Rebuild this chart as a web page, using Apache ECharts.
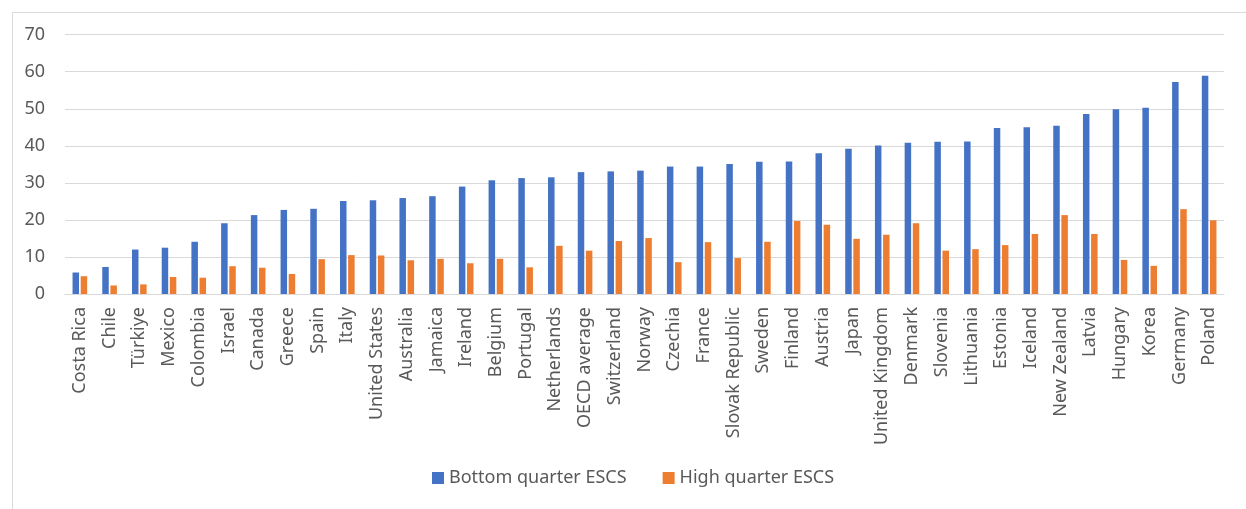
<!DOCTYPE html>
<html>
<head>
<meta charset="utf-8">
<script src="https://cdn.jsdelivr.net/npm/echarts@6/dist/echarts.min.js"></script>
<style>
html,body{margin:0;padding:0;background:#fff;}
#chart{width:1246px;height:509px;}
</style>
</head>
<body>
<div id="chart"></div>
<script>
const categories = ["Costa Rica","Chile","Türkiye","Mexico","Colombia","Israel","Canada","Greece","Spain","Italy","United States","Australia","Jamaica","Ireland","Belgium","Portugal","Netherlands","OECD average","Switzerland","Norway","Czechia","France","Slovak Republic","Sweden","Finland","Austria","Japan","United Kingdom","Denmark","Slovenia","Lithuania","Estonia","Iceland","New Zealand","Latvia","Hungary","Korea","Germany","Poland"];
const bottomQuarter = [5.8,7.3,12.0,12.5,14.1,19.1,21.3,22.7,23.0,25.1,25.3,25.9,26.4,29.0,30.7,31.3,31.5,32.9,33.1,33.3,34.4,34.4,35.1,35.7,35.8,38.0,39.2,40.1,40.8,41.1,41.2,44.8,45.0,45.4,48.6,49.9,50.3,57.2,58.9];
const highQuarter = [4.8,2.3,2.6,4.6,4.4,7.5,7.1,5.4,9.4,10.5,10.4,9.1,9.5,8.3,9.5,7.2,13.0,11.7,14.3,15.1,8.6,14.0,9.7,14.1,19.7,18.7,14.9,16.0,19.1,11.7,12.1,13.2,16.2,21.3,16.2,9.2,7.6,22.9,19.9];
const yTicks = {min: 0, max: 70, interval: 10};

const FONT = '"Noto Sans", sans-serif';
const chart = echarts.init(document.getElementById('chart'), null, {renderer: 'canvas'});
chart.setOption({
  animation: false,
  backgroundColor: '#fff',
  graphic: [{
    type: 'rect', left: 10, top: 10, silent: true,
    shape: {x: 0, y: 0, width: 1250, height: 497},
    style: {fill: 'none', stroke: '#d9d9d9', lineWidth: 1}
  }],
  grid: {left: 65, right: 22, top: 34.7, bottom: 215, containLabel: false},
  legend: {
    left: 432, top: 469, padding: 0,
    itemWidth: 12, itemHeight: 12, itemGap: 36,
    icon: 'rect',
    textStyle: {fontFamily: FONT, fontSize: 18, color: '#595959'},
    data: ['Bottom quarter ESCS', 'High quarter ESCS']
  },
  xAxis: {
    type: 'category',
    data: categories,
    axisLine: {lineStyle: {color: '#d9d9d9'}},
    axisTick: {show: false},
    axisLabel: {rotate: 90, interval: 0, margin: 13, fontFamily: FONT, fontSize: 18, color: '#595959'}
  },
  yAxis: {
    type: 'value',
    min: yTicks.min, max: yTicks.max, interval: yTicks.interval,
    axisLine: {show: false},
    axisTick: {show: false},
    splitLine: {lineStyle: {color: '#d9d9d9', width: 1}},
    axisLabel: {margin: 20, fontFamily: FONT, fontSize: 18, color: '#595959'}
  },
  series: [
    {name: 'Bottom quarter ESCS', type: 'bar', data: bottomQuarter, barWidth: 6.5, barGap: '25%', itemStyle: {color: '#4472C4'}},
    {name: 'High quarter ESCS', type: 'bar', data: highQuarter, barWidth: 6.5, barGap: '25%', itemStyle: {color: '#ED7D31'}}
  ]
});
</script>
</body>
</html>
